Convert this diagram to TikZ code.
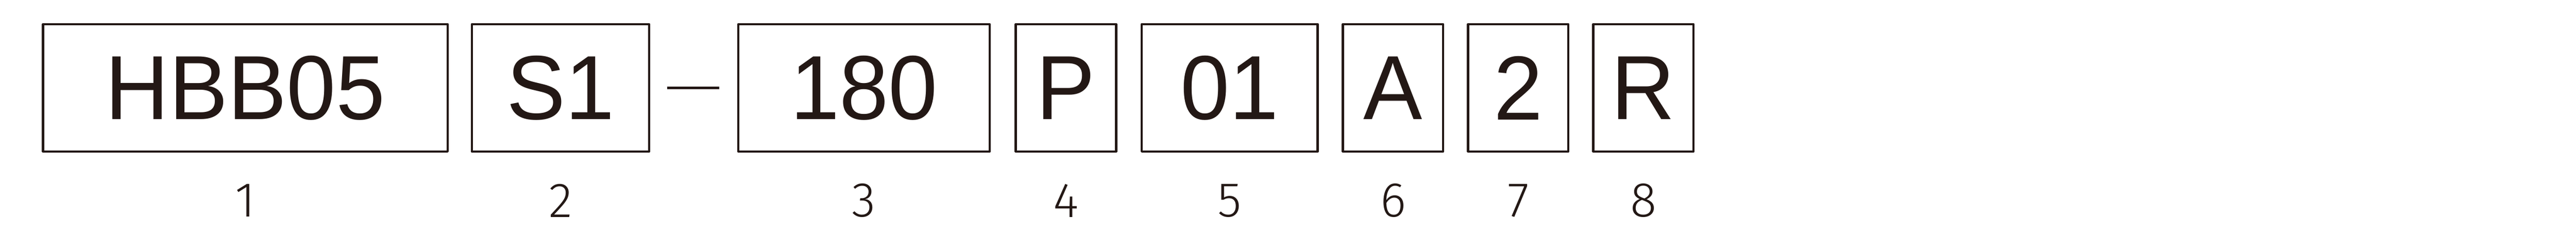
\documentclass[tikz,border=0pt]{standalone}
\usepackage{fontspec}
\setmainfont{Liberation Sans}[FakeStretch=0.97]
\newfontfamily\numfont{Fira Sans Light}
\usetikzlibrary{positioning,calc}
\definecolor{ink}{HTML}{231815}
\tikzstyle{field} = [draw=ink, text=ink, rectangle, line width=2pt, line join=round, outer sep=0pt, inner sep=0pt, minimum height=3.83cm, text centered, font=\fontsize{78}{82}\selectfont]
\tikzstyle{narrow} = [field, minimum width=3.02cm]
\tikzstyle{index} = [text=ink, inner sep=0pt, font=\numfont\fontsize{42}{46}\selectfont]
\tikzstyle{line} = [draw=ink, line width=2pt]

\begin{document}
\begin{tikzpicture}[node distance=0.76cm]
        \useasboundingbox (0,0) rectangle (77.61,7.49);
        \node[field, minimum width=12.19cm] (c1) at (7.39,4.845) {HBB05};
        \node[field, minimum width=5.34cm, right=0.73cm of c1] (c2) {S1};
        \node[field, minimum width=7.57cm, right=2.69cm of c2] (c3) {180};
        \node[narrow, right=0.79cm of c3] (c4) {P};
        \node[field, minimum width=5.30cm, right=0.775cm of c4] (c5) {01};
        \node[narrow, right=of c5] (c6) {A};
        \node[narrow, right=0.75cm of c6] (c7) {2};
        \node[narrow, right=0.75cm of c7] (c8) {R};
        \path[line] ($(c2.east)+(0.54,0)$) -- ($(c3.west)+(-0.58,0)$);
        % numbers under the fields
        \foreach \n in {1,...,8}
            \node[index] (n\n) at ([yshift=-3.395cm]c\n.center) {\n};
    \end{tikzpicture}
\end{document}
